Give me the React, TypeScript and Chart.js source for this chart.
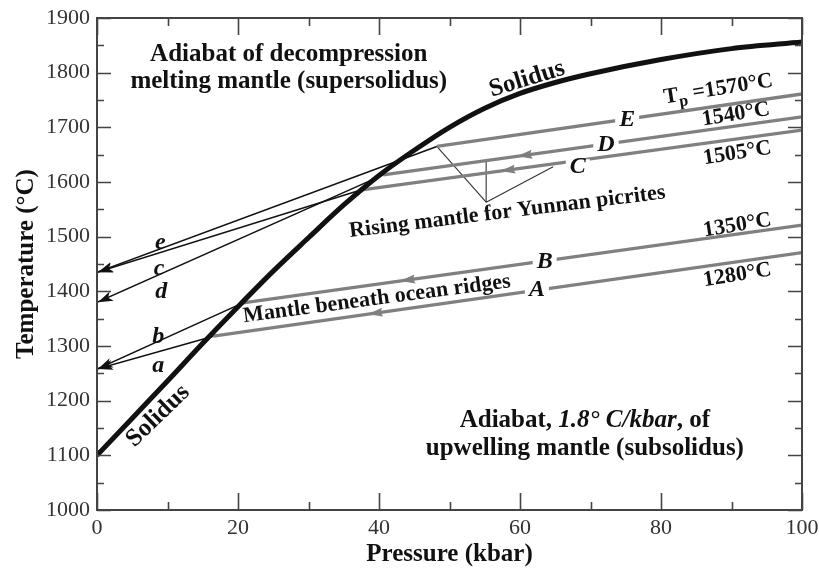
import React, { useEffect, useRef } from 'react';
import { Chart, registerables } from 'chart.js';

Chart.register(...registerables);

const SERIF = '"Liberation Serif", "DejaVu Serif", serif';

// ---- axes ----
const pressureTicks = [0, 20, 40, 60, 80, 100];
const pressureMinor = [10, 30, 50, 70, 90];
const temperatureTicks = [1000, 1100, 1200, 1300, 1400, 1500, 1600, 1700, 1800, 1900];
const temperatureMinor = [1050, 1150, 1250, 1350, 1450, 1550, 1650, 1750, 1850];

// ---- solidus (kbar, °C) ----
const solidusP = [0, 5, 10, 15, 20, 25, 30, 35, 40, 45, 50, 55, 60, 65, 70, 80, 90, 100];
const solidusT = [1100, 1168, 1236, 1305, 1372, 1437, 1498, 1558, 1612, 1658, 1700, 1735, 1762, 1782, 1798, 1824, 1844, 1856];

// ---- subsolidus adiabats E, D, C, B, A ----
const adiabatNames = ['E', 'D', 'C', 'B', 'A'];
const adiabatTp = ['1570°C', '1540°C', '1505°C', '1350°C', '1280°C'];
const adiabatStartP = [48.2, 40.6, 37.3, 20.7, 16.5];
const adiabatStartT = [1665, 1613, 1585, 1379, 1318];
const adiabatEndP = [100, 100, 100, 100, 100];
const adiabatEndT = [1761, 1719, 1695, 1521, 1471];
const adiabatArrowP = [NaN, 59.6, 57.2, 43.0, 38.4];

// ---- melting paths e, c, d, b, a (start at the adiabat, end at 0 kbar) ----
const meltNames = ['e', 'c', 'd', 'b', 'a'];
const meltFromAdiabat = [0, 2, 1, 3, 4];
const meltEndP = [0, 0, 0, 0, 0];
const meltEndT = [1435, 1435, 1380, 1258, 1258];

// ---- pointer lines "Rising mantle for Yunnan picrites" ----
const pointerHubP = [55.2];
const pointerHubT = [1563];
const pointerTargetP = [48.2, 55.2, 64.7];
const pointerTargetT = [1665, 1639, 1628];

// ---- label layout (data coordinates) ----
const adiabatLabelP = [75.2, 72.2, 68.2, 63.5, 62.4];
const adiabatLabelT = [1713, 1668, 1627, 1454, 1402];
const tpLabelP = [88.1, 90.6, 90.8, 90.8, 90.8];
const tpLabelT = [1772, 1726, 1655, 1523, 1432];
const meltLabelP = [9.0, 8.8, 9.1, 8.7, 8.7];
const meltLabelT = [1489, 1441, 1399, 1317, 1263];

const notes = [
  { text: 'Adiabat of decompression', p: 27.2, t: 1821, size: 25, rot: 0, base: 'alphabetic' },
  { text: 'melting mantle (supersolidus)', p: 27.2, t: 1772, size: 25, rot: 0, base: 'alphabetic' },
  { text: 'upwelling mantle (subsolidus)', p: 69.2, t: 1100.7, size: 25, rot: 0, base: 'alphabetic' },
  { text: 'Solidus', p: 61, t: 1788, size: 25, rot: -17, base: 'middle' },
  { text: 'Solidus', p: 8.65, t: 1172, size: 25, rot: -44, base: 'middle' },
  { text: 'Rising mantle for Yunnan picrites', p: 58.2, t: 1545, size: 22, rot: -7, base: 'middle' },
  { text: 'Mantle beneath ocean ridges', p: 39.7, t: 1386, size: 22, rot: -7.5, base: 'middle' },
];
const richNote = {
  p: 69.2,
  t: 1152,
  size: 25,
  parts: [
    { text: 'Adiabat, ', italic: false },
    { text: '1.8° C/kbar', italic: true },
    { text: ', of', italic: false },
  ],
};

function drawArrowHead(ctx: CanvasRenderingContext2D, tx: number, ty: number, dx: number, dy: number, len: number, half: number, notch: number, color: string) {
  const n = Math.hypot(dx, dy) || 1;
  const ux = dx / n, uy = dy / n;
  const vx = -uy, vy = ux;
  const bx = tx - ux * len, by = ty - uy * len;
  ctx.save();
  ctx.fillStyle = color;
  ctx.beginPath();
  ctx.moveTo(tx, ty);
  ctx.lineTo(bx + vx * half, by + vy * half);
  ctx.lineTo(tx - ux * (len - notch), ty - uy * (len - notch));
  ctx.lineTo(bx - vx * half, by - vy * half);
  ctx.closePath();
  ctx.fill();
  ctx.restore();
}

const overlayPlugin = {
  id: 'overlay',
  afterDatasetsDraw(chart: any) {
    const { ctx, chartArea } = chart;
    const xs = chart.scales.x, ys = chart.scales.y;
    const px = (v: number) => xs.getPixelForValue(v);
    const py = (v: number) => ys.getPixelForValue(v);

    // grey arrowheads on adiabats
    adiabatNames.forEach((_, i) => {
      const ap = adiabatArrowP[i];
      if (!isFinite(ap)) return;
      const f = (ap - adiabatStartP[i]) / (adiabatEndP[i] - adiabatStartP[i]);
      const at = adiabatStartT[i] + f * (adiabatEndT[i] - adiabatStartT[i]);
      const dx = px(adiabatStartP[i]) - px(adiabatEndP[i]);
      const dy = py(adiabatStartT[i]) - py(adiabatEndT[i]);
      drawArrowHead(ctx, px(ap), py(at), dx, dy, 15, 4.5, 2, '#7f7f7f');
    });

    // black arrowheads at 0 kbar
    meltNames.forEach((_, i) => {
      const a = meltFromAdiabat[i];
      const dx = px(meltEndP[i]) - px(adiabatStartP[a]);
      const dy = py(meltEndT[i]) - py(adiabatStartT[a]);
      drawArrowHead(ctx, px(meltEndP[i]) + 1, py(meltEndT[i]), dx, dy, 15, 5, 4, '#111');
    });

    ctx.save();
    ctx.fillStyle = '#111';

    // adiabat letters with white gap
    ctx.font = `italic bold 24px ${SERIF}`;
    ctx.textAlign = 'center';
    ctx.textBaseline = 'middle';
    adiabatNames.forEach((name, i) => {
      const x = px(adiabatLabelP[i]);
      const y = py(adiabatLabelT[i]);
      const w = ctx.measureText(name).width;
      ctx.fillStyle = '#fff';
      ctx.fillRect(x - w / 2 - 4, y - 8, w + 8, 16);
      ctx.fillStyle = '#111';
      ctx.fillText(name, x, y);
    });

    // melting path letters
    meltNames.forEach((name, i) => {
      ctx.fillText(name, px(meltLabelP[i]), py(meltLabelT[i]));
    });

    // Tp labels
    adiabatTp.forEach((val, i) => {
      const x = px(tpLabelP[i]);
      const y = py(tpLabelT[i]);
      ctx.save();
      ctx.translate(x, y);
      ctx.rotate((-9 * Math.PI) / 180);
      ctx.textBaseline = 'alphabetic';
      ctx.textAlign = 'left';
      const big = `bold 22px ${SERIF}`;
      const small = `bold 16px ${SERIF}`;
      const base = 7;
      if (i === 0) {
        ctx.font = big;
        const wT = ctx.measureText('T').width;
        const rest = ' =' + val;
        const wR = ctx.measureText(rest).width;
        ctx.font = small;
        const wp = ctx.measureText('p').width;
        let x0 = -(wT + wp + wR) / 2;
        ctx.font = big;
        ctx.fillText('T', x0, base);
        x0 += wT;
        ctx.font = small;
        ctx.fillText('p', x0, base + 5);
        x0 += wp;
        ctx.font = big;
        ctx.fillText(rest, x0, base);
      } else {
        ctx.font = big;
        const w = ctx.measureText(val).width;
        ctx.fillText(val, -w / 2, base);
      }
      ctx.restore();
    });

    // free notes
    notes.forEach((n) => {
      ctx.save();
      ctx.translate(px(n.p), py(n.t));
      ctx.rotate((n.rot * Math.PI) / 180);
      ctx.font = `bold ${n.size}px ${SERIF}`;
      ctx.textAlign = 'center';
      ctx.textBaseline = n.base as CanvasTextBaseline;
      ctx.fillText(n.text, 0, 0);
      ctx.restore();
    });

    // rich note
    {
      const fonts = richNote.parts.map((pt) => `${pt.italic ? 'italic ' : ''}bold ${richNote.size}px ${SERIF}`);
      const widths = richNote.parts.map((pt, k) => {
        ctx.font = fonts[k];
        return ctx.measureText(pt.text).width;
      });
      const total = widths.reduce((a, b) => a + b, 0);
      let x0 = px(richNote.p) - total / 2;
      const y0 = py(richNote.t);
      ctx.textAlign = 'left';
      ctx.textBaseline = 'alphabetic';
      richNote.parts.forEach((pt, k) => {
        ctx.font = fonts[k];
        ctx.fillText(pt.text, x0, y0);
        x0 += widths[k];
      });
    }
    ctx.restore();

    // frame and inward ticks
    const { left, right, top, bottom } = chartArea;
    ctx.save();
    ctx.strokeStyle = '#444';
    ctx.lineWidth = 2;
    ctx.strokeRect(left, top, right - left, bottom - top);
    ctx.lineWidth = 1.6;
    ctx.beginPath();
    const xt = (v: number, len: number) => {
      const x = Math.round(px(v)) + 0.5;
      ctx.moveTo(x, bottom);
      ctx.lineTo(x, bottom - len);
      ctx.moveTo(x, top);
      ctx.lineTo(x, top + len);
    };
    const yt = (v: number, len: number) => {
      const y = Math.round(py(v)) + 0.5;
      ctx.moveTo(left, y);
      ctx.lineTo(left + len, y);
      ctx.moveTo(right, y);
      ctx.lineTo(right - len, y);
    };
    pressureTicks.forEach((v) => xt(v, 17));
    pressureMinor.forEach((v) => xt(v, 8));
    temperatureTicks.forEach((v) => yt(v, 14));
    temperatureMinor.forEach((v) => yt(v, 7));
    ctx.stroke();
    ctx.restore();
  },
};

export default function App() {
  const ref = useRef<HTMLCanvasElement>(null);
  useEffect(() => {
    if (!ref.current) return;
    const pt = (p: number, t: number) => ({ x: p, y: t });
    const datasets: any[] = [];
    datasets.push({
      data: solidusP.map((p, i) => pt(p, solidusT[i])),
      showLine: true,
      borderColor: '#111',
      borderWidth: 5,
      pointRadius: 0,
      cubicInterpolationMode: 'monotone',
      order: 0,
    });
    adiabatNames.forEach((_, i) => {
      datasets.push({
        data: [pt(adiabatStartP[i], adiabatStartT[i]), pt(adiabatEndP[i], adiabatEndT[i])],
        showLine: true,
        borderColor: '#808080',
        borderWidth: 3.3,
        pointRadius: 0,
        order: 2,
      });
    });
    meltNames.forEach((_, i) => {
      const a = meltFromAdiabat[i];
      datasets.push({
        data: [pt(adiabatStartP[a], adiabatStartT[a]), pt(meltEndP[i], meltEndT[i])],
        showLine: true,
        borderColor: '#111',
        borderWidth: 1.5,
        pointRadius: 0,
        order: 3,
      });
    });
    pointerTargetP.forEach((p, i) => {
      datasets.push({
        data: [pt(pointerHubP[0], pointerHubT[0]), pt(p, pointerTargetT[i])],
        showLine: true,
        borderColor: '#333',
        borderWidth: 1.1,
        pointRadius: 0,
        order: 4,
      });
    });

    const chart = new Chart(ref.current, {
      type: 'scatter',
      data: { datasets },
      options: {
        animation: false,
        responsive: false,
        devicePixelRatio: 1,
        layout: { padding: { top: 18, right: 17, left: 0, bottom: 0 } },
        plugins: { legend: { display: false }, tooltip: { enabled: false } },
        scales: {
          x: {
            type: 'linear',
            min: 0,
            max: 100,
            afterFit: (s: any) => {
              s.height = 61;
              s.paddingLeft = 0;
              s.paddingRight = 0;
            },
            afterBuildTicks: (s: any) => {
              s.ticks = pressureTicks.map((v) => ({ value: v }));
            },
            ticks: {
              font: { family: SERIF, size: 22 },
              color: '#333',
              padding: 5,
              maxRotation: 0,
              autoSkip: false,
              callback: (v: any) => String(v),
            },
            grid: { display: false, drawTicks: false },
            border: { display: false },
            title: {
              display: true,
              text: 'Pressure (kbar)',
              font: { family: SERIF, size: 25, weight: 'bold' },
              color: '#111',
              padding: { top: 0, bottom: 1 },
            },
          },
          y: {
            type: 'linear',
            min: 1000,
            max: 1900,
            afterFit: (s: any) => {
              s.width = 97;
              s.paddingTop = 0;
              s.paddingBottom = 0;
            },
            afterBuildTicks: (s: any) => {
              s.ticks = temperatureTicks.map((v) => ({ value: v }));
            },
            ticks: {
              font: { family: SERIF, size: 22 },
              color: '#333',
              padding: 7,
              autoSkip: false,
              callback: (v: any) => String(v),
            },
            grid: { display: false, drawTicks: false },
            border: { display: false },
            title: {
              display: true,
              text: 'Temperature (°C)',
              font: { family: SERIF, size: 25, weight: 'bold' },
              color: '#111',
              padding: { top: 12, bottom: 0 },
            },
          },
        },
      },
      plugins: [overlayPlugin],
    } as any);
    return () => chart.destroy();
  }, []);

  return (
    <div style={{ position: 'absolute', left: 0, top: 0, width: 819, height: 571, background: '#fff' }}>
      <canvas ref={ref} width={819} height={571} />
    </div>
  );
}
